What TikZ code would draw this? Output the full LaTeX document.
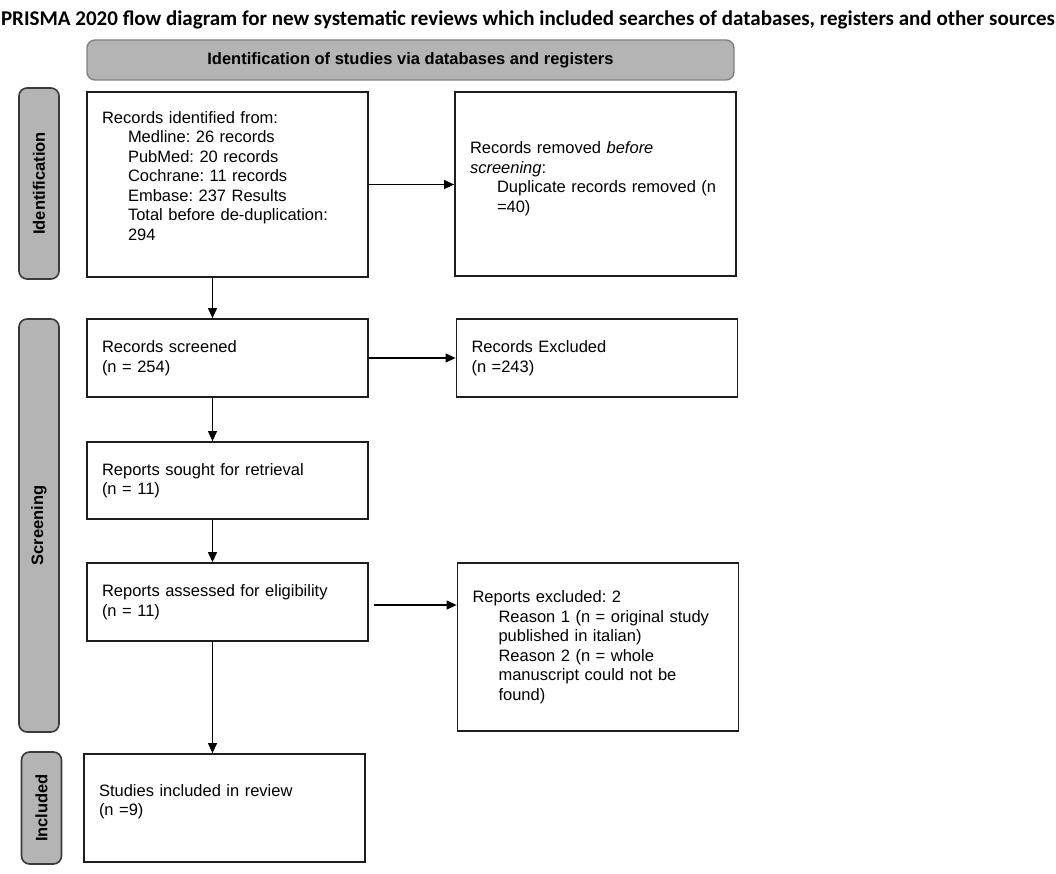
\documentclass[tikz,border=0pt]{standalone}
\usepackage{fontspec}
\setmainfont{Liberation Sans}
\newfontfamily\titlefont{Carlito}
\usetikzlibrary{arrows.meta}
\definecolor{boxblack}{HTML}{1E1E1E}
\definecolor{panelgray}{HTML}{B4B4B4}
\definecolor{panelline}{HTML}{808080}
\definecolor{sideline}{HTML}{3A3A3A}
\frenchspacing
\begin{document}
\begin{tikzpicture}
    [
        x=1pt, y=-1pt,
        square/.style = {draw=boxblack, shape=rectangle, line width=1.8pt, align=left, text width=251pt, inner xsep=15pt, minimum width=281pt, font=\fontsize{16.5}{19.5}\selectfont},
        phase/.style = {draw=sideline, fill=panelgray, shape=rectangle, rounded corners=8pt, line width=1.6pt, minimum height=40pt, rotate=90, font=\bfseries\fontsize{16.5}{19.5}\selectfont},
        banner/.style = {draw=panelline, fill=panelgray, shape=rectangle, rounded corners=8pt, line width=1.4pt, minimum width=647pt, minimum height=40pt, font=\bfseries\fontsize{16.5}{19.5}\selectfont},
        lift/.style = {execute at end node={\rule[-#1]{0pt}{#1}}},
        flow/.style = {line width=1.2pt, -{Triangle[length=10pt, width=9pt]}},
    ]

    \useasboundingbox (0,0) rectangle (1056,874);

    \node (title) at (528,20) {\titlefont\bfseries\fontsize{21}{24}\selectfont PRISMA 2020 flow diagram for new systematic reviews which included searches of databases, registers and other sources};

    \node[banner] (head) at (410.5,60) {Identification of studies via databases and registers};

    % phase labels
    \node[phase, minimum width=191pt] (idphase) at (39,183.5) {Identification};
    \node[phase, minimum width=413pt] (scphase) at (39,525.5) {Screening};
    \node[phase, minimum width=112pt] (inphase) at (41.5,808) {Included};

    % left column
    \node[square, minimum height=185pt, lift=17pt] (ident) at (227.5,184.5) {Records identified from:\\
        \hspace*{26pt}Medline: 26 records\\
        \hspace*{26pt}PubMed: 20 records\\
        \hspace*{26pt}Cochrane: 11 records\\
        \hspace*{26pt}Embase: 237 Results\\
        \hspace*{26pt}Total before de-duplication:\\
        \hspace*{26pt}294};
    \node[square, minimum height=78pt] (screened) at (227.5,358) {Records screened\\(n = 254)};
    \node[square, minimum height=77pt] (sought) at (227.5,480.5) {Reports sought for retrieval\\(n = 11)};
    \node[square, minimum height=78pt] (assessed) at (227.5,602) {Reports assessed for eligibility\\(n = 11)};
    \node[square, minimum height=108pt, lift=16pt] (included) at (224.5,808) {Studies included in review\\(n =9)};

    % right column
    \node[square, minimum height=184pt, lift=14pt] (removed) at (595.5,184) {Records removed \textit{before}\\
        \textit{screening}:\\
        \hspace*{27pt}Duplicate records removed (n\\
        \hspace*{27pt}=40)};
    \node[square, minimum height=78pt] (excluded) at (597,358) {Records Excluded\\(n =243)};
    \node[square, minimum height=168pt] (repexcl) at (598,647) {Reports excluded: 2\\
        \hspace*{26pt}Reason 1 (n = original study\\
        \hspace*{26pt}published in italian)\\
        \hspace*{26pt}Reason 2 (n = whole\\
        \hspace*{26pt}manuscript could not be\\
        \hspace*{26pt}found)};

    \draw [flow] (ident.east) -- (ident.east -| removed.west);
    \draw [flow] (screened.east) -- (screened.east -| excluded.west);
    \draw [flow, shorten <=5pt] ([yshift=-3pt]assessed.east) -- ([yshift=-3pt]assessed.east -| repexcl.west);

    \draw [flow] ([xshift=-15pt]ident.south) -- ([xshift=-15pt]screened.north);
    \draw [flow] ([xshift=-15pt]screened.south) -- ([xshift=-15pt]sought.north);
    \draw [flow] ([xshift=-15pt]sought.south) -- ([xshift=-15pt]assessed.north);
    \draw [flow] ([xshift=-15pt]assessed.south) -- ([xshift=-12pt]included.north);
\end{tikzpicture}
\end{document}
